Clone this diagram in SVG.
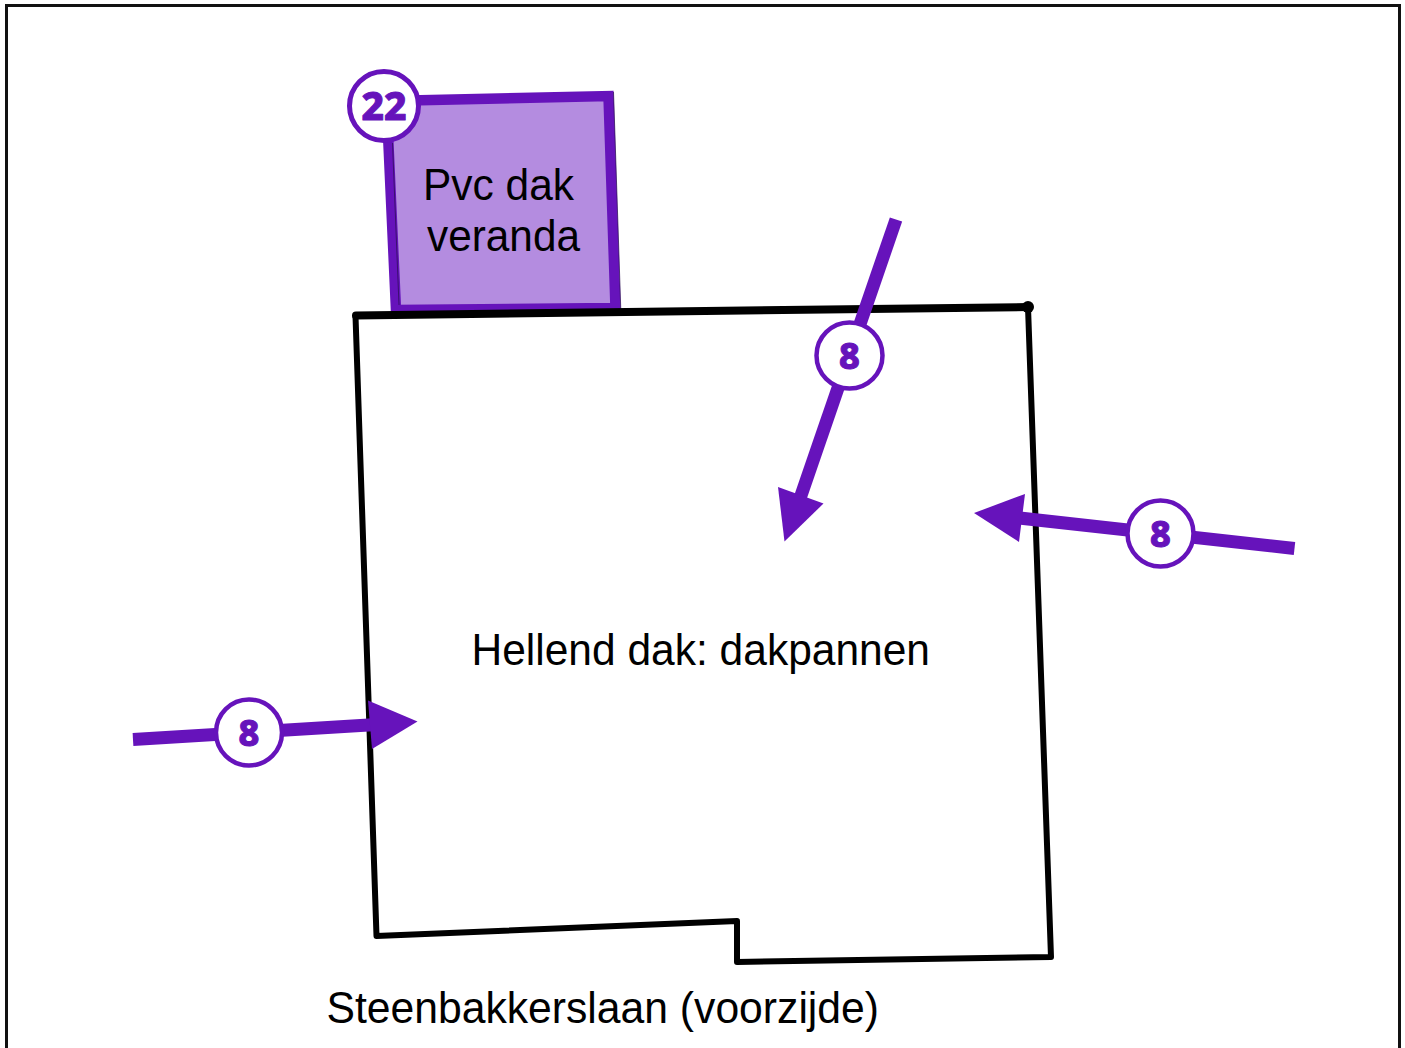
<svg xmlns="http://www.w3.org/2000/svg" width="1405" height="1048" viewBox="0 0 1405 1048">
<style>
.lbl{font-family:"Liberation Sans",Arial,sans-serif;font-size:44px;fill:#000}
.num{font-family:"Noto Sans","Open Sans",sans-serif;font-weight:800;fill:#6613bb;stroke:#6613bb;stroke-width:1;stroke-linejoin:round;text-anchor:middle}
.badge{fill:#fff;stroke:#6613bb;stroke-width:4.500}
.shaft{fill:none;stroke:#6613bb;stroke-width:13}
.head{fill:#6613bb}
</style>
<rect width="1405" height="1048" fill="#fff"/>
<path id="frame" d="M6.500 1048V5.500H1399.500V1048" fill="none" stroke="#111" stroke-width="3"/>
<g id="veranda">
<path d="M386.500 101L608.500 96L615.500 308L396 310Z" fill="#b48ce0" stroke="#6613bb" stroke-width="10.500" stroke-linejoin="miter"/>
<path d="M613.500 92L620.800 310M392.500 143L399 305" fill="none" stroke="#2a1050" stroke-width="1" opacity="0.7"/>
<text class="lbl" x="423" y="199.500" textLength="151" lengthAdjust="spacingAndGlyphs">Pvc dak</text>
<text class="lbl" x="427" y="250.500" textLength="153" lengthAdjust="spacingAndGlyphs">veranda</text>
</g>
<g id="main-roof">
<path d="M355.500 316L376.500 936L737 921V962L1051 957L1028 307" fill="none" stroke="#000" stroke-width="6" stroke-linejoin="round"/>
<path d="M356 315.500L1028 307" fill="none" stroke="#000" stroke-width="8" stroke-linecap="round"/>
<circle cx="1028" cy="307" r="6" fill="#000"/>
<text class="lbl" x="471.500" y="664.500" textLength="458.500" lengthAdjust="spacingAndGlyphs">Hellend dak: dakpannen</text>
</g>
<text id="street" class="lbl" x="326.500" y="1023" textLength="552.500" lengthAdjust="spacingAndGlyphs">Steenbakkerslaan (voorzijde)</text>
<g id="connectors">
<path class="shaft" d="M896 219.500L796 510"/>
<path class="head" d="M784.500 541.500L778 487L823.500 503.500Z"/>
<path class="shaft" d="M1294.500 548.500L1010 517"/>
<path class="head" d="M974 513L1025 494L1019 542Z"/>
<path class="shaft" d="M133 739.500L385 724"/>
<path class="head" d="M417.500 721.500L368 700.500L372 749Z"/>
</g>
<g id="badge-22">
<circle cx="384" cy="106" r="34.500" fill="#fff" stroke="#6613bb" stroke-width="5"/>
<text class="num" x="384" y="120" font-size="39">22</text>
</g>
<g id="badge-8-top">
<circle class="badge" cx="849.500" cy="355.500" r="33"/>
<text class="num" x="849.500" y="369" font-size="36">8</text>
</g>
<g id="badge-8-right">
<circle class="badge" cx="1160.500" cy="533.500" r="33"/>
<text class="num" x="1160.500" y="547" font-size="36">8</text>
</g>
<g id="badge-8-left">
<circle class="badge" cx="249" cy="732.500" r="33"/>
<text class="num" x="249" y="746" font-size="36">8</text>
</g>
</svg>
